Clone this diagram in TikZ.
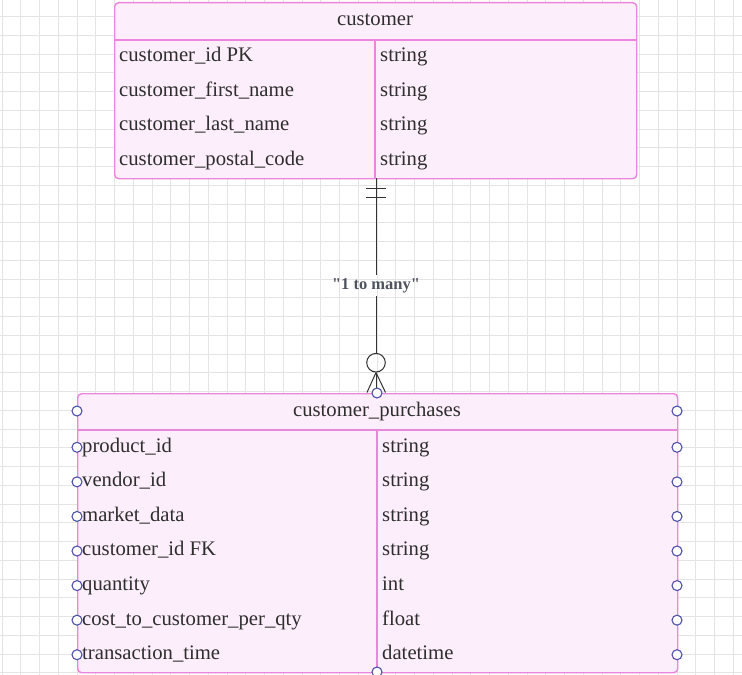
\documentclass[tikz,border=0pt]{standalone}
\usepackage{fontspec}
\setmainfont{Liberation Serif}
\newfontfamily\plainserif{Liberation Serif}
\definecolor{tblborder}{HTML}{EA86DC}
\definecolor{tblfill}{HTML}{FDEEFB}
\definecolor{portcol}{HTML}{4F4FA8}
\definecolor{relcol}{HTML}{333333}
\definecolor{lblcol}{HTML}{4E535E}
\definecolor{gridcol}{HTML}{E4E4E4}
\definecolor{txtcol}{HTML}{2E2E2E}
\begin{document}
\begin{tikzpicture}[x=1bp,y=-1bp,
  tbl/.style={draw=tblborder, fill=tblfill, line width=1.4bp, rounded corners=4bp, inner sep=0pt, anchor=north west},
  sepline/.style={draw=tblborder, line width=1.4bp},
  txt/.style={anchor=base west, inner sep=0pt, text=txtcol, font=\fontsize{20.7bp}{24bp}\selectfont},
  hdr/.style={anchor=base, inner sep=0pt, text=txtcol, font=\fontsize{20.7bp}{24bp}\selectfont},
  port/.style={circle, draw=portcol, fill=white, line width=1.1bp, inner sep=0pt, minimum size=10bp},
  rel/.style={draw=relcol, line width=1bp},
  lbl/.style={inner sep=0pt, minimum height=21bp, text=lblcol, font=\plainserif\fontsize{16.5bp}{18bp}\selectfont\bfseries}
]
\useasboundingbox (0,0) rectangle (742,675);
\begin{scope}
\clip (0,0) rectangle (742,675);
\fill[white] (0,0) rectangle (742,675);
\foreach \i in {0,...,39} \draw[gridcol, line width=1bp] ({2.2+18.75*\i},0) -- ({2.2+18.75*\i},675);
\foreach \j in {0,...,35} \draw[gridcol, line width=1bp] (0,{16.7+18.75*\j}) -- (742,{16.7+18.75*\j});

% customer table
\node[tbl, minimum width=522bp, minimum height=176bp] (cust) at (114,2) {};
\draw[sepline] (114,40) -- (636,40);
\draw[sepline] (375,40) -- (375,178);
\node[hdr] (custh) at (375,25.4) {customer};
\node[txt] (c1a) at (119,61.7) {customer\_id PK};
\node[txt] (c2a) at (119,96.2) {customer\_first\_name};
\node[txt] (c3a) at (119,130.7) {customer\_last\_name};
\node[txt] (c4a) at (119,165.2) {customer\_postal\_code};
\node[txt] (c1b) at (380,61.7) {string};
\node[txt] (c2b) at (380,96.2) {string};
\node[txt] (c3b) at (380,130.7) {string};
\node[txt] (c4b) at (380,165.2) {string};

% customer_purchases table
\node[tbl, minimum width=600bp, minimum height=279bp] (purch) at (77,393) {};
\draw[sepline] (77,430) -- (677,430);
\draw[sepline] (377,430) -- (377,672);
\node[hdr] (purchh) at (377,416) {customer\_purchases};
\foreach \n/\b [count=\k from 0] in {product\_id/string, vendor\_id/string, market\_data/string, customer\_id FK/string, quantity/int, cost\_to\_customer\_per\_qty/float, transaction\_time/datetime}{
  \node[txt] (pa\k) at (82,{452.2+34.57*\k}) {\n};
  \node[txt] (pb\k) at (382,{452.2+34.57*\k}) {\b};
}

% relationship
\coordinate (relstart) at (376,178);
\node[lbl] (lab) at (376,285.5) {"1 to many"};
\node[circle, draw=relcol, line width=1bp, minimum size=18.6bp, inner sep=0pt] (ring) at (376,362.7) {};
\coordinate (footl) at (367,392.5);
\coordinate (footm) at (376,392.5);
\coordinate (footr) at (385.5,392.5);
\coordinate (tick1l) at (366,188.3);
\coordinate (tick1r) at (385.5,188.3);
\coordinate (tick2l) at (366,197.7);
\coordinate (tick2r) at (385.5,197.7);
\draw[rel] (relstart) -- (lab.north);
\draw[rel] (lab.south) -- (ring.north);
\draw[rel] (tick1l) -- (tick1r);
\draw[rel] (tick2l) -- (tick2r);
\draw[rel] (ring.south) -- (footl);
\draw[rel] (ring.south) -- (footm);
\draw[rel] (ring.south) -- (footr);

% ports
\node[port] (pt) at (377,393) {};
\node[port] (pbm) at (377,672) {};
\node[port] (pl0) at (77,411) {};
\node[port] (pr0) at (677,411) {};
\foreach \k in {0,...,6}{
  \node[port] (pl\k x) at (77,{447.3+34.57*\k}) {};
  \node[port] (pr\k x) at (677,{447.3+34.57*\k}) {};
}
\end{scope}
\end{tikzpicture}
\end{document}
